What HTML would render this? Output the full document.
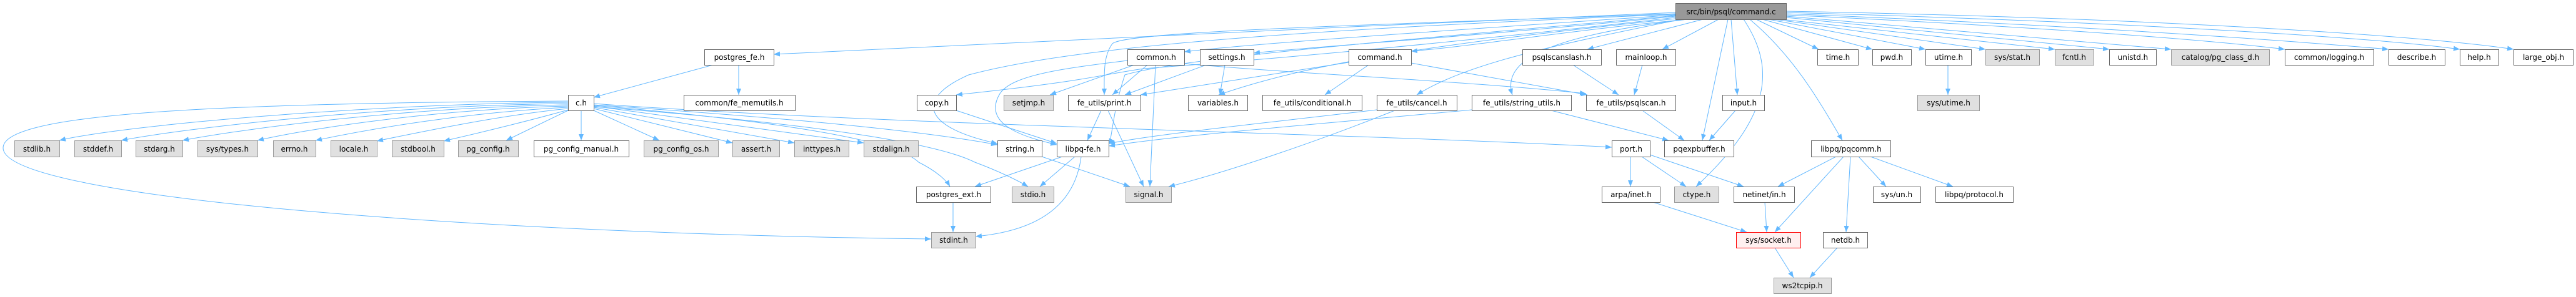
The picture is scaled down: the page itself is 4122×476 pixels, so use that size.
<!DOCTYPE html>
<html><head><meta charset="utf-8"><style>
html,body{margin:0;padding:0;background:#fff;}
svg{display:block;}
text{font-family:"DejaVu Sans","Liberation Sans",sans-serif;font-size:12px;fill:#000;text-anchor:middle;}
.w{fill:#fff;stroke:#666;stroke-width:1;}
.g{fill:#e0e0e0;stroke:#999;stroke-width:1;}
.r{fill:#fff0f0;stroke:#ff0000;stroke-width:1;}
.d{fill:#999;stroke:#666;stroke-width:1;}
.e{fill:none;stroke:#63b8ff;stroke-width:1;marker-end:url(#a);}
</style></head><body>
<svg width="4122" height="476" viewBox="0 0 4122 476" xmlns="http://www.w3.org/2000/svg">
<defs><marker id="a" viewBox="0 0 10 10" refX="10" refY="5" markerWidth="10" markerHeight="10" markerUnits="userSpaceOnUse" orient="auto"><path d="M0,1 L10,5 L0,9 z" fill="#63b8ff"/></marker></defs>

<!-- edges from root -->
<path class="e" d="M2681,20 C2200,40 1600,70 1238,87"/>
<path class="e" d="M2681,24 C2300,50 2000,70 1895,83"/>
<path class="e" d="M2681,26 C2400,55 2100,75 2006,85"/>
<path class="e" d="M2700,31 C2500,50 2350,75 2258,82"/>
<path class="e" d="M2725,31 L2540,79"/>
<path class="e" d="M2750,31 L2660,79"/>
<path class="e" d="M2681,22 C2200,40 1800,50 1780,70 C1765,90 1767,120 1767,152"/>
<path class="e" d="M2681,28 C2400,60 2100,90 1830,110 C1760,120 1740,130 1530,152"/>
<path class="e" d="M2681,30 C2300,70 2100,100 1950,152"/>
<path class="e" d="M2690,31 C2500,70 2350,100 2267,152"/>
<path class="e" d="M2700,31 C2500,55 2400,90 2420,152"/>
<path class="e" d="M2770,31 L2780,152"/>
<path class="e" d="M2765,31 L2724,225"/>
<path class="e" d="M2681,25 C2300,60 1900,90 1800,120 C1780,180 1780,220 1774,232"/>
<path class="e" d="M2681,23 C2000,50 1700,80 1550,120 C1460,160 1480,205 1596,230"/>
<path class="e" d="M2790,31 C2850,120 2820,200 2714,299"/>
<path class="e" d="M2800,31 C2870,90 2910,160 2948,225"/>
<path class="e" d="M2810,31 L2910,79"/>
<path class="e" d="M2820,31 L2996,79"/>
<path class="e" d="M2830,31 L3081,79"/>
<path class="e" d="M2840,31 L3177,79"/>
<path class="e" d="M2850,31 L3288,79"/>
<path class="e" d="M2858,28 L3375,79"/>
<path class="e" d="M2858,26 L3474,79"/>
<path class="e" d="M2858,24 C3200,40 3500,60 3656,79"/>
<path class="e" d="M2858,22 C3300,40 3600,60 3822,79"/>
<path class="e" d="M2858,20 C3400,35 3800,60 3936,79"/>
<path class="e" d="M2858,18 C3500,30 3900,60 4022,79"/>

<!-- postgres_fe -->
<path class="e" d="M1141,104 L950,156"/>
<path class="e" d="M1182,104 L1182,152"/>

<!-- c.h to row3 -->
<path class="e" d="M909,164 C600,166 200,200 95,225"/>
<path class="e" d="M909,166 C600,170 300,205 194,225"/>
<path class="e" d="M909,168 C650,172 400,205 292,225"/>
<path class="e" d="M909,170 C700,175 500,205 412,225"/>
<path class="e" d="M909,172 C750,180 600,205 505,225"/>
<path class="e" d="M909,174 C800,185 680,210 603,226"/>
<path class="e" d="M909,176 C860,190 780,210 710,226"/>
<path class="e" d="M909,177 L810,225"/>
<path class="e" d="M930,177 L930,225"/>
<path class="e" d="M950,177 L1055,225"/>
<path class="e" d="M950,174 L1172,229"/>
<path class="e" d="M950,172 L1271,229"/>
<path class="e" d="M950,170 L1382,229"/>
<path class="e" d="M950,168 C1200,185 1450,205 1596,232"/>
<path class="e" d="M950,169 C1200,190 1430,220 1470,260 C1500,275 1515,290 1520,299"/>
<path class="e" d="M950,171 C1200,190 1480,220 1560,260 C1600,275 1630,290 1645,299"/>
<path class="e" d="M950,166 C1400,200 2200,215 2579,236"/>
<path class="e" d="M909,162 C300,165 5,185 5,237 C5,320 800,375 1490,383"/>

<!-- common.h -->
<path class="e" d="M1815,104 L1680,152"/>
<path class="e" d="M1836,104 L1780,152"/>
<path class="e" d="M1849,104 L1840,299"/>
<path class="e" d="M1804,97 C1700,110 1620,120 1600,150 C1570,200 1640,220 1691,232"/>
<path class="e" d="M1895,102 C2100,120 2350,130 2538,150"/>
<!-- settings.h -->
<path class="e" d="M1930,104 L1800,152"/>
<path class="e" d="M1960,104 L1952,152"/>
<!-- command.h -->
<path class="e" d="M2190,104 L2120,152"/>
<path class="e" d="M2258,101 L2540,152"/>
<path class="e" d="M2158,100 L1825,152"/>
<!-- copy.h -->
<path class="e" d="M1530,177 L1691,230"/>
<!-- print.h -->
<path class="e" d="M1762,177 L1740,225"/>
<path class="e" d="M1773,177 L1830,299"/>
<!-- libpq-fe -->
<path class="e" d="M1700,251 L1560,299"/>
<path class="e" d="M1720,251 L1664,299"/>
<path class="e" d="M1730,251 C1720,330 1660,370 1561,379"/>
<!-- string.h -->
<path class="e" d="M1667,251 L1808,299"/>
<!-- postgres_ext -->
<path class="e" d="M1525,324 L1525,372"/>
<!-- cancel.h -->
<path class="e" d="M2203,176 C2000,200 1850,215 1774,230"/>
<path class="e" d="M2232,177 C2100,230 1950,280 1870,299"/>
<!-- string_utils -->
<path class="e" d="M2355,176 C2100,200 1900,215 1774,234"/>
<path class="e" d="M2482,177 L2670,225"/>
<!-- psqlscanslash, mainloop -->
<path class="e" d="M2517,104 L2590,152"/>
<path class="e" d="M2628,104 L2615,152"/>
<!-- psqlscan, input -->
<path class="e" d="M2628,177 L2695,225"/>
<path class="e" d="M2777,177 L2735,225"/>
<!-- port.h -->
<path class="e" d="M2609,251 L2609,299"/>
<path class="e" d="M2627,251 L2698,299"/>
<path class="e" d="M2640,248 L2790,299"/>
<!-- arpa/inet, netinet -->
<path class="e" d="M2645,324 L2795,372"/>
<path class="e" d="M2824,324 L2827,372"/>
<!-- pqcomm -->
<path class="e" d="M2938,251 L2845,299"/>
<path class="e" d="M2950,251 L2840,372"/>
<path class="e" d="M2961,251 L2954,372"/>
<path class="e" d="M2974,251 L3018,299"/>
<path class="e" d="M2993,251 L3125,299"/>
<!-- socket, netdb -->
<path class="e" d="M2840,397 L2870,445"/>
<path class="e" d="M2940,397 L2896,445"/>
<!-- utime -->
<path class="e" d="M3117,104 L3117,152"/>

<!-- nodes -->
<g>
<rect class="d" x="2681.5" y="5.5" width="177" height="26"/><text x="2770" y="23">src/bin/psql/command.c</text>

<rect class="w" x="1127.5" y="79.5" width="111" height="25"/><text x="1183" y="96">postgres_fe.h</text>
<rect class="w" x="1804.5" y="79.5" width="91" height="25"/><text x="1850" y="96">common.h</text>
<rect class="w" x="1920.5" y="79.5" width="86" height="25"/><text x="1963" y="96">settings.h</text>
<rect class="w" x="2158.5" y="79.5" width="100" height="25"/><text x="2208" y="96">command.h</text>
<rect class="w" x="2436.5" y="79.5" width="126" height="25"/><text x="2499" y="96">psqlscanslash.h</text>
<rect class="w" x="2586.5" y="79.5" width="95" height="25"/><text x="2634" y="96">mainloop.h</text>
<rect class="w" x="2908.5" y="79.5" width="65" height="25"/><text x="2941" y="96">time.h</text>
<rect class="w" x="2996.5" y="79.5" width="62" height="25"/><text x="3027" y="96">pwd.h</text>
<rect class="w" x="3081.5" y="79.5" width="73" height="25"/><text x="3118" y="96">utime.h</text>
<rect class="g" x="3177.5" y="79.5" width="86" height="25"/><text x="3220" y="96">sys/stat.h</text>
<rect class="g" x="3288.5" y="79.5" width="62" height="25"/><text x="3319" y="96">fcntl.h</text>
<rect class="w" x="3375.5" y="79.5" width="75" height="25"/><text x="3413" y="96">unistd.h</text>
<rect class="g" x="3474.5" y="79.5" width="157" height="25"/><text x="3553" y="96">catalog/pg_class_d.h</text>
<rect class="w" x="3656.5" y="79.5" width="142" height="25"/><text x="3727" y="96">common/logging.h</text>
<rect class="w" x="3822.5" y="79.5" width="90" height="25"/><text x="3867" y="96">describe.h</text>
<rect class="w" x="3936.5" y="79.5" width="62" height="25"/><text x="3967" y="96">help.h</text>
<rect class="w" x="4022.5" y="79.5" width="95" height="25"/><text x="4070" y="96">large_obj.h</text>

<rect class="w" x="909.5" y="152.5" width="41" height="25"/><text x="930" y="169">c.h</text>
<rect class="w" x="1094.5" y="152.5" width="178" height="25"/><text x="1183" y="169">common/fe_memutils.h</text>
<rect class="w" x="1467.5" y="152.5" width="63" height="25"/><text x="1499" y="169">copy.h</text>
<rect class="g" x="1606.5" y="152.5" width="79" height="25"/><text x="1646" y="169">setjmp.h</text>
<rect class="w" x="1709.5" y="152.5" width="116" height="25"/><text x="1767" y="169">fe_utils/print.h</text>
<rect class="w" x="1901.5" y="152.5" width="95" height="25"/><text x="1949" y="169">variables.h</text>
<rect class="w" x="2020.5" y="152.5" width="159" height="25"/><text x="2100" y="169">fe_utils/conditional.h</text>
<rect class="w" x="2203.5" y="152.5" width="128" height="25"/><text x="2267" y="169">fe_utils/cancel.h</text>
<rect class="w" x="2355.5" y="152.5" width="159" height="25"/><text x="2435" y="169">fe_utils/string_utils.h</text>
<rect class="w" x="2538.5" y="152.5" width="143" height="25"/><text x="2610" y="169">fe_utils/psqlscan.h</text>
<rect class="w" x="2756.5" y="152.5" width="67" height="25"/><text x="2790" y="169">input.h</text>
<rect class="g" x="3068.5" y="152.5" width="99" height="25"/><text x="3118" y="169">sys/utime.h</text>

<rect class="g" x="23.5" y="225.5" width="72" height="26"/><text x="59" y="243">stdlib.h</text>
<rect class="g" x="119.5" y="225.5" width="75" height="26"/><text x="157" y="243">stddef.h</text>
<rect class="g" x="217.5" y="225.5" width="75" height="26"/><text x="255" y="243">stdarg.h</text>
<rect class="g" x="316.5" y="225.5" width="96" height="26"/><text x="364" y="243">sys/types.h</text>
<rect class="g" x="437.5" y="225.5" width="68" height="26"/><text x="471" y="243">errno.h</text>
<rect class="g" x="529.5" y="225.5" width="74" height="26"/><text x="566" y="243">locale.h</text>
<rect class="g" x="627.5" y="225.5" width="83" height="26"/><text x="669" y="243">stdbool.h</text>
<rect class="g" x="733.5" y="225.5" width="96" height="26"/><text x="781" y="243">pg_config.h</text>
<rect class="w" x="854.5" y="225.5" width="152" height="26"/><text x="930" y="243">pg_config_manual.h</text>
<rect class="g" x="1030.5" y="225.5" width="119" height="26"/><text x="1090" y="243">pg_config_os.h</text>
<rect class="g" x="1172.5" y="225.5" width="75" height="26"/><text x="1210" y="243">assert.h</text>
<rect class="g" x="1271.5" y="225.5" width="87" height="26"/><text x="1315" y="243">inttypes.h</text>
<rect class="g" x="1382.5" y="225.5" width="87" height="26"/><text x="1426" y="243">stdalign.h</text>
<rect class="w" x="1596.5" y="225.5" width="71" height="26"/><text x="1632" y="243">string.h</text>
<rect class="w" x="1691.5" y="225.5" width="83" height="26"/><text x="1733" y="243">libpq-fe.h</text>
<rect class="w" x="2579.5" y="225.5" width="61" height="26"/><text x="2610" y="243">port.h</text>
<rect class="w" x="2663.5" y="225.5" width="111" height="26"/><text x="2719" y="243">pqexpbuffer.h</text>
<rect class="w" x="2898.5" y="225.5" width="127" height="26"/><text x="2962" y="243">libpq/pqcomm.h</text>

<rect class="w" x="1466.5" y="299.5" width="119" height="25"/><text x="1526" y="316">postgres_ext.h</text>
<rect class="g" x="1619.5" y="299.5" width="67" height="25"/><text x="1653" y="316">stdio.h</text>
<rect class="g" x="1801.5" y="299.5" width="73" height="25"/><text x="1838" y="316">signal.h</text>
<rect class="w" x="2563.5" y="299.5" width="93" height="25"/><text x="2610" y="316">arpa/inet.h</text>
<rect class="g" x="2679.5" y="299.5" width="71" height="25"/><text x="2715" y="316">ctype.h</text>
<rect class="w" x="2774.5" y="299.5" width="97" height="25"/><text x="2823" y="316">netinet/in.h</text>
<rect class="w" x="2997.5" y="299.5" width="76" height="25"/><text x="3035" y="316">sys/un.h</text>
<rect class="w" x="3097.5" y="299.5" width="124" height="25"/><text x="3159" y="316">libpq/protocol.h</text>

<rect class="g" x="1490.5" y="372.5" width="71" height="25"/><text x="1526" y="389">stdint.h</text>
<rect class="r" x="2778.5" y="372.5" width="103" height="25"/><text x="2830" y="389">sys/socket.h</text>
<rect class="w" x="2917.5" y="372.5" width="71" height="25"/><text x="2953" y="389">netdb.h</text>

<rect class="g" x="2838.5" y="445.5" width="92" height="25"/><text x="2884" y="462">ws2tcpip.h</text>
</g>
</svg>
</body></html>
